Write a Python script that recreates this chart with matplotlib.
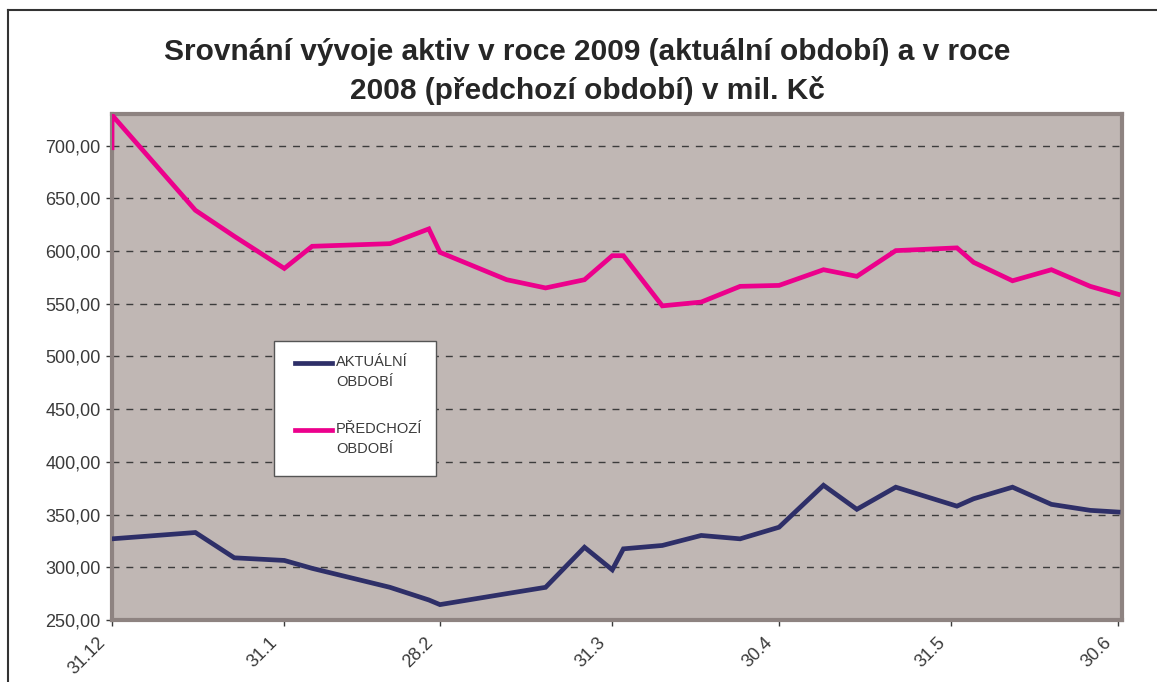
import pandas as pd
import matplotlib
matplotlib.use('Agg')
import matplotlib.pyplot as plt
import matplotlib.dates as mdates
import matplotlib.transforms as mtransforms
from matplotlib.lines import Line2D
from matplotlib.patches import Rectangle
from matplotlib.ticker import FuncFormatter, FixedLocator

plt.rcParams['font.family'] = ['Liberation Sans', 'DejaVu Sans']

# data (mil. Kč)
dates = ['2008-12-31', '2008-12-31', '2009-01-15', '2009-01-22', '2009-01-31',
         '2009-02-05', '2009-02-19', '2009-02-26', '2009-02-28', '2009-03-12',
         '2009-03-19', '2009-03-26', '2009-03-31', '2009-04-02', '2009-04-09',
         '2009-04-16', '2009-04-23', '2009-04-30', '2009-05-08', '2009-05-14',
         '2009-05-21', '2009-06-01', '2009-06-04', '2009-06-11', '2009-06-18',
         '2009-06-25', '2009-06-30']
aktualni = [327, 327, 333, 309, 306.5, 299, 281, 269, 264.6, 275,
            281, 319, 297.6, 317.5, 320.7, 330.2, 327, 338, 377.8, 355,
            376, 358, 365, 376, 359.7, 354, 352.4]
predchozi = [698, 729, 638.7, 614, 583.5, 604.5, 607, 621, 598.8, 572.8,
             565, 572.8, 595.6, 595.6, 548, 551.6, 566.5, 567.4, 582.3, 576,
             600.4, 603, 589.3, 571.8, 582.3, 566.5, 559]

tick_dates = ['2008-12-31', '2009-01-31', '2009-02-28', '2009-03-31',
              '2009-04-30', '2009-05-31', '2009-06-30']
tick_labels = ['31.12', '31.1', '28.2', '31.3', '30.4', '31.5', '30.6']

W, H = 1157, 682
fig = plt.figure(figsize=(W / 100, H / 100), dpi=100)
ax = fig.add_axes([112 / W, 1 - 620 / H, 1010 / W, 506 / H])

x = pd.to_datetime(dates)
ax.plot(x, aktualni, color='#2e2f68', lw=3.4, solid_joinstyle='miter', zorder=3)
ax.plot(x, predchozi, color='#ec008c', lw=3.4, solid_joinstyle='miter', zorder=3)

ax.set_facecolor('#c0b7b4')
for s in ax.spines.values():
    s.set_color('#8e8381')
    s.set_linewidth(3)

ax.set_ylim(250, 730)
ax.set_yticks(range(250, 701, 50))
ax.yaxis.set_major_formatter(FuncFormatter(lambda v, p: f'{v:.2f}'.replace('.', ',')))
ax.grid(axis='y', color='#3c3c3c', linestyle=(0, (5, 5)), lw=1)
ax.set_axisbelow(True)

t0 = mdates.date2num(pd.Timestamp('2008-12-31'))
ax.set_xlim(t0, t0 + 181.7)
ax.xaxis.set_major_locator(FixedLocator(mdates.date2num(pd.to_datetime(tick_dates))))
ax.set_xticklabels(tick_labels, rotation=45, ha='right', va='center',
                   rotation_mode='anchor')

ax.tick_params(axis='both', colors='#3a3a3a', labelsize=13, length=4.2, width=1,
               direction='out')
ax.tick_params(axis='x', pad=10.5)
ax.tick_params(axis='y', pad=4)
shift = mtransforms.ScaledTranslation(-9 / 100, 0, fig.dpi_scale_trans)
for lbl in ax.get_xticklabels():
    lbl.set_transform(lbl.get_transform() + shift)

# title
fig.text(587 / W, 1 - 38 / H,
         'Srovnání vývoje aktiv v roce 2009 (aktuální období) a v roce\n2008 (předchozí období) v mil. Kč',
         ha='center', va='top', fontsize=21.5, fontweight='bold', color='#262626',
         linespacing=1.42)

# legend box
leg = Rectangle((274 / W, 1 - 476 / H), 162 / W, 135 / H, transform=fig.transFigure,
                facecolor='white', edgecolor='#555555', lw=1, zorder=5)
fig.add_artist(leg)
for yy, col, lab in [(363, '#2e2f68', 'AKTUÁLNÍ\nOBDOBÍ'),
                     (430, '#ec008c', 'PŘEDCHOZÍ\nOBDOBÍ')]:
    fig.add_artist(Line2D([295 / W, 332 / W], [1 - yy / H, 1 - yy / H],
                          color=col, lw=3.4, zorder=6))
    fig.text(336 / W, 1 - (yy - 8) / H, lab, ha='left', va='top', fontsize=10.5,
             color='#3a3a3a', linespacing=1.55, zorder=6)

# outer chart-area border (top and left edges visible)
fig.add_artist(Line2D([8 / W, 1], [1 - 10 / H, 1 - 10 / H], color='#333333', lw=1.5))
fig.add_artist(Line2D([8 / W, 8 / W], [0, 1 - 10 / H], color='#333333', lw=1.5))

fig.savefig('out.png', dpi=100)
